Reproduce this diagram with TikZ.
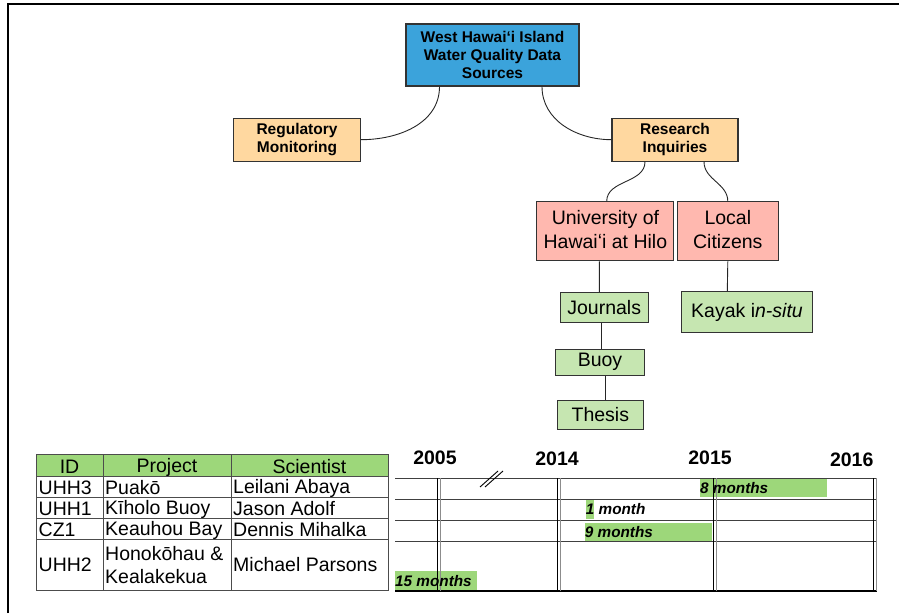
\documentclass[tikz,border=0pt]{standalone}
\usepackage{fontspec}
\setmainfont{Liberation Sans}
\definecolor{srcblue}{HTML}{3BA3DB}
\definecolor{catorange}{HTML}{FFD8A0}
\definecolor{grppink}{HTML}{FFB8AF}
\definecolor{leafgreen}{HTML}{C6E6B1}
\definecolor{bargreen}{HTML}{9DD77A}
\tikzset{
  box/.style={draw=black!80,line width=1.1pt,inner sep=0pt,align=center},
  topbox/.style={box,font=\fontsize{15.5}{18}\selectfont\bfseries},
  grpbox/.style={box,fill=grppink,font=\fontsize{19.5}{24}\selectfont},
  leafbox/.style={box,fill=leafgreen,font=\fontsize{19.5}{24}\selectfont},
  link/.style={black!85,line width=0.9pt},
  cell/.style={anchor=west,inner sep=0pt,font=\fontsize{19.5}{23}\selectfont},
  head/.style={inner sep=0pt,font=\fontsize{19.5}{23}\selectfont},
  yearlbl/.style={inner sep=0pt,font=\fontsize{19.5}{22}\selectfont\bfseries},
  barlbl/.style={anchor=west,inner sep=0pt,font=\fontsize{15.3}{18}\selectfont\bfseries\itshape}
}
\begin{document}
\begin{tikzpicture}[x=1pt,y=-1pt]
\useasboundingbox (0,0) rectangle (899,613);
\draw[line width=2pt] (8,613) -- (8,4) -- (899,4);
% tree
\node[topbox,fill=srcblue,minimum width=173pt,minimum height=62pt] (src) at (492.5,55) {West Hawaiʻi Island\\Water Quality Data\\Sources};
\node[topbox,fill=catorange,minimum width=127pt,minimum height=43pt] (reg) at (297,139.7) {Regulatory\\Monitoring};
\node[topbox,fill=catorange,minimum width=126pt,minimum height=43pt] (res) at (675,139.7) {Research\\Inquiries};
\node[grpbox,minimum width=137pt,minimum height=59pt] (uhh) at (605.4,231.4) {University of\\Hawaiʻi at Hilo\vphantom{g}};
\node[grpbox,minimum width=101pt,minimum height=59pt] (citz) at (727.8,231.4) {Local\\Citizens\vphantom{g}};
\node[leafbox,minimum width=88pt,minimum height=29.3pt] (jrnl) at (604.2,307.4) {Journals};
\node[leafbox,minimum width=88.6pt,minimum height=26pt] (buoy) at (600,362.3) {Buoy};
\node[leafbox,minimum width=86pt,minimum height=28.3pt] (thes) at (600.3,414.9) {Thesis};
\node[leafbox,minimum width=130.6pt,minimum height=41pt] (kayak) at (747,312.2) {Kayak i\textit{n-situ}};
\draw[link] ([xshift=-53pt]src.south) to[out=-90,in=0] (reg.east);
\draw[link] ([xshift=49.5pt]src.south) to[out=-90,in=180] (res.west);
\draw[link] ([xshift=-30pt]res.south) to[out=-90,in=90] ([xshift=1.3pt]uhh.north);
\draw[link] ([xshift=29pt]res.south) to[out=-90,in=90] (citz.north);
\draw[link] ([xshift=-6.1pt]uhh.south) -- ([xshift=-4.9pt]jrnl.north);
\draw[link] ([xshift=-2.5pt]jrnl.south) -- ([xshift=1.7pt]buoy.north);
\draw[link] ([xshift=5pt]buoy.south) -- ([xshift=4.7pt]thes.north);
\draw[link] (citz.south) -- ([xshift=-19.7pt]kayak.north);
% table
\fill[bargreen] (36,454) rectangle (388,476);
\draw[black!70,line width=0.8pt] (36,454) rectangle (388,590);
\foreach \y in {476,497,518,539} \draw[black!70,line width=0.8pt] (36,\y) -- (388,\y);
\foreach \x in {103,231} \draw[black!70,line width=0.8pt] (\x,454) -- (\x,590);
\node[head] (hid) at (69.5,467) {ID};
\node[head] (hproj) at (167,467) {Project};
\node[head] (hsci) at (309.5,467) {Scientist};
\node[cell] (id1) at (38.5,488) {UHH3};
\node[cell] (pr1) at (105,488) {Puakō};
\node[cell] (sc1) at (233,488) {Leilani Abaya};
\node[cell] (id2) at (38.5,509) {UHH1};
\node[cell] (pr2) at (105,509) {Kīholo Buoy};
\node[cell] (sc2) at (233,509) {Jason Adolf};
\node[cell] (id3) at (38.5,530) {CZ1};
\node[cell] (pr3) at (105,530) {Keauhou Bay};
\node[cell] (sc3) at (233,530) {Dennis Mihalka};
\node[cell] (id4) at (38.5,565) {UHH2};
\node[cell] (pr4a) at (105,554) {Honokōhau \&};
\node[cell] (pr4b) at (105,577) {Kealakekua};
\node[cell] (sc4) at (233,565) {Michael Parsons};
% timeline
\fill[bargreen] (700,478) rectangle (827,497);
\fill[bargreen] (585.7,499) rectangle (594,519.3);
\fill[bargreen] (584.7,522.7) rectangle (712.3,541);
\fill[bargreen] (395,571) rectangle (476.7,590);
\foreach \y in {478,499,520,541} \draw[black!75,line width=0.8pt] (395,\y) -- (877,\y);
\draw[line width=1.3pt] (395,591) -- (877,591);
\foreach \x in {437,557,713,873} {
  \draw[line width=0.9pt] (\x,478) -- (\x,591);
  \draw[black!45,line width=0.9pt] (\x+3,478) -- (\x+3,591);
}
\draw[line width=0.9pt] (480,487) -- (498,471);
\draw[line width=0.9pt] (485,487) -- (503,471);
\node[yearlbl] (y05) at (435,458) {2005};
\node[yearlbl] (y14) at (557,459) {2014};
\node[yearlbl] (y15) at (710,458) {2015};
\node[yearlbl] (y16) at (851.7,459.5) {2016};
\node[barlbl] (m8) at (700,488) {8 months};
\node[barlbl] (m1) at (585.7,509.5) {1 month};
\node[barlbl] (m9) at (584.7,532) {9 months};
\node[barlbl] (m15) at (395,581) {15 months};
\end{tikzpicture}
\end{document}
